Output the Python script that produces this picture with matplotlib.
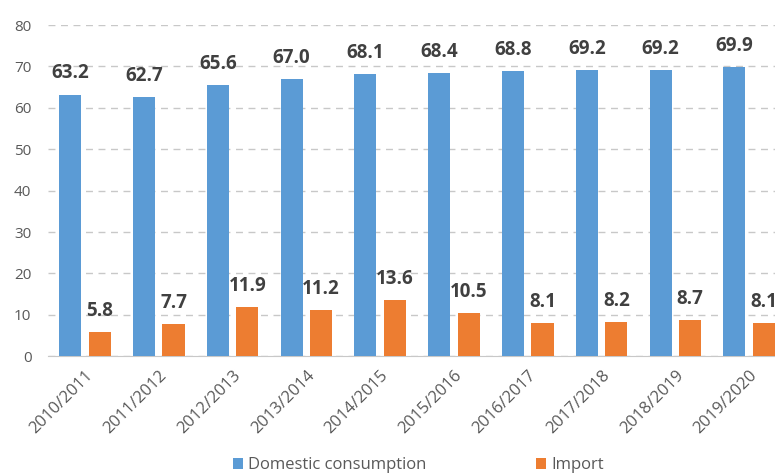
import matplotlib
matplotlib.use("Agg")
import matplotlib.pyplot as plt
import numpy as np

seasons = ["2010/2011", "2011/2012", "2012/2013", "2013/2014", "2014/2015",
           "2015/2016", "2016/2017", "2017/2018", "2018/2019", "2019/2020"]
domestic = [63.2, 62.7, 65.6, 67.0, 68.1, 68.4, 68.8, 69.2, 69.2, 69.9]
imports = [5.8, 7.7, 11.9, 11.2, 13.6, 10.5, 8.1, 8.2, 8.7, 8.1]
yticks = [0, 10, 20, 30, 40, 50, 60, 70, 80]

plt.rcParams["font.family"] = ["Open Sans", "DejaVu Sans"]

BLUE = "#5B9BD5"
ORANGE = "#ED7D31"
TXT = "#595959"
LBL = "#404040"

fig = plt.figure(figsize=(7.75, 4.73), dpi=100)
ax = fig.add_axes([0.062, 0.247, 0.938, 0.7])

x = np.arange(len(seasons))
w = 0.30
off = 0.20
b1 = ax.bar(x - off, domestic, w, color=BLUE, label="Domestic consumption", zorder=3)
b2 = ax.bar(x + off, imports, w, color=ORANGE, label="Import", zorder=3)

for bars, vals in ((b1, domestic), (b2, imports)):
    for rect, v in zip(bars, vals):
        ax.annotate(f"{v:.1f}", (rect.get_x() + rect.get_width() / 2, v),
                    xytext=(0, 8), textcoords="offset points", ha="center", va="bottom",
                    fontsize=13.5, fontweight="bold", color=LBL, zorder=4)

ax.set_ylim(0, 80)
ax.set_xlim(-0.5, 9.35)
ax.set_yticks(yticks)
ax.set_yticklabels([str(t) for t in yticks], color=TXT, fontsize=11)
ax.set_xticks(x)
ax.set_xticklabels(seasons, rotation=45, ha="right", rotation_mode="anchor",
                   color=TXT, fontsize=12)
ax.tick_params(axis="both", length=0)
ax.tick_params(axis="y", pad=12)
ax.tick_params(axis="x", pad=8)

ax.yaxis.grid(True, linestyle=(0, (5, 4)), color="#C8C8C8", linewidth=1, zorder=0)
for s in ["top", "right", "left"]:
    ax.spines[s].set_visible(False)
ax.spines["bottom"].set_color("#C8C8C8")

fig.legend(handles=[b1, b2], loc="center", bbox_to_anchor=(0.54, 0.016), ncol=2,
           frameon=False, fontsize=12, handlelength=0.6, handleheight=0.6,
           handletextpad=0.3, columnspacing=6.6, labelcolor=TXT)

fig.savefig("out.png", dpi=100)
